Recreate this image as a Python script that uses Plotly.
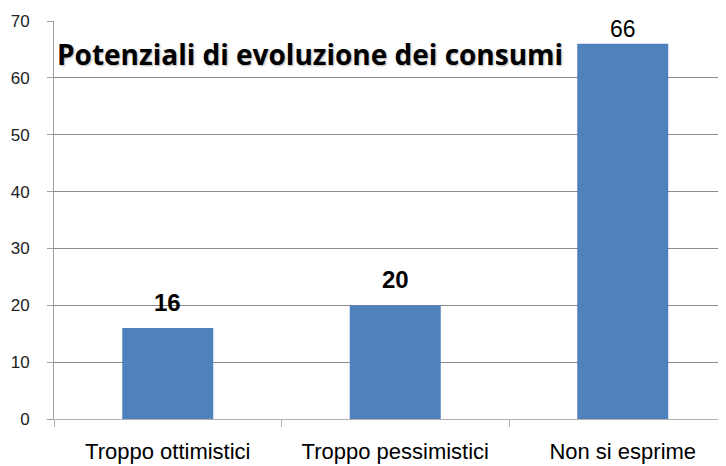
import plotly.graph_objects as go

categories = ["Troppo ottimistici", "Troppo pessimistici", "Non si esprime"]
values = [16, 20, 66]
label_bold = [True, True, False]
label_shift = [10, 10, 0]
title_text = "Potenziali di evoluzione dei consumi"
y_ticks = [0, 10, 20, 30, 40, 50, 60, 70]

BAR = "#4F81BD"
GRID = "#8C8C8C"

fig = go.Figure(go.Bar(x=categories, y=values, marker=dict(color=BAR, line=dict(width=0)),
                       width=0.4, hoverinfo="skip"))

for c, v, b, s in zip(categories, values, label_bold, label_shift):
    fig.add_annotation(x=c, y=v, text=f"<b>{v}</b>" if b else str(v), showarrow=False,
                       yanchor="bottom", yshift=s,
                       font=dict(family="Liberation Sans, Arial", size=24 if b else 23, color="#000000"))

fig.add_annotation(xref="paper", yref="paper", x=0.002, y=0.918, xanchor="left", yanchor="middle",
                   text=f"<b>{title_text}</b>", showarrow=False,
                   font=dict(family="Open Sans", size=28, color="#000000",
                             shadow="1px 1px 2px rgba(0,0,0,0.3)"))

# page body has an 8px margin, so the figure is sized/positioned to compensate
fig.update_layout(
    width=718, height=458,
    margin=dict(l=46, r=0, t=13, b=47),
    paper_bgcolor="white", plot_bgcolor="white",
    showlegend=False,
    bargap=0.6,
)
fig.update_xaxes(range=[-0.5, 2.5 - 10.5 / 227.5], showline=True, linecolor="#B0B0B0", linewidth=1,
                 ticks="outside", tickson="boundaries", ticklen=7, tickcolor="#B0B0B0",
                 tickfont=dict(family="Liberation Sans, Arial", size=22, color="#000000"),
                 ticklabelstandoff=13, showgrid=False, fixedrange=True)
fig.update_yaxes(range=[0, 70], tickvals=y_ticks, showgrid=True, gridcolor=GRID, gridwidth=1,
                 showline=True, linecolor="#A0A0A0", linewidth=1, zeroline=False,
                 ticks="outside", ticklen=6, tickcolor="#A0A0A0",
                 tickfont=dict(family="Liberation Sans, Arial", size=17, color="#222222"),
                 ticklabelstandoff=14, fixedrange=True)

fig.write_html("out.html")
